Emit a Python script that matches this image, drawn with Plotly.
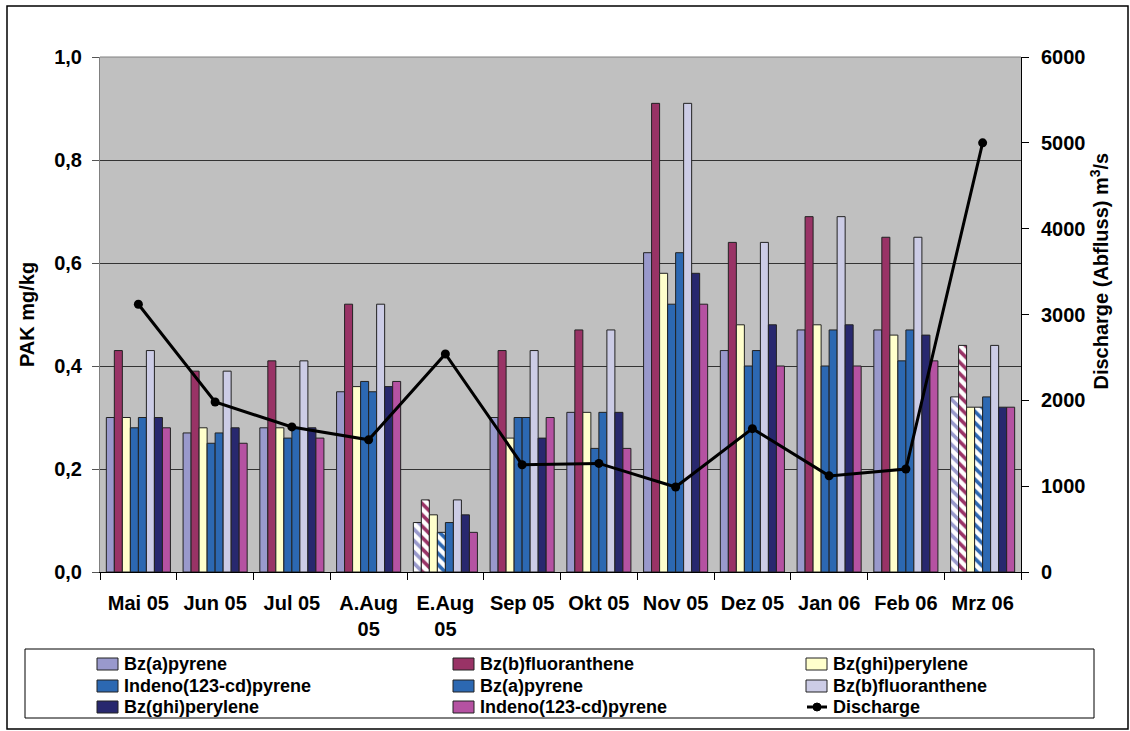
import plotly.graph_objects as go

# Sampling months
months = ["Mai 05", "Jun 05", "Jul 05", "A.Aug<br>05", "E.Aug<br>05", "Sep 05",
          "Okt 05", "Nov 05", "Dez 05", "Jan 06", "Feb 06", "Mrz 06"]

# PAK concentrations (mg/kg), eight series
bza_1 = [0.30, 0.27, 0.28, 0.35, 0.096, 0.30, 0.31, 0.62, 0.43, 0.47, 0.47, 0.34]
bzb_1 = [0.43, 0.39, 0.41, 0.52, 0.14, 0.43, 0.47, 0.91, 0.64, 0.69, 0.65, 0.44]
ghi_1 = [0.30, 0.28, 0.28, 0.36, 0.111, 0.26, 0.31, 0.58, 0.48, 0.48, 0.46, 0.32]
ind_1 = [0.28, 0.25, 0.26, 0.37, 0.077, 0.30, 0.24, 0.52, 0.40, 0.40, 0.41, 0.32]
bza_2 = [0.30, 0.27, 0.28, 0.35, 0.096, 0.30, 0.31, 0.62, 0.43, 0.47, 0.47, 0.34]
bzb_2 = [0.43, 0.39, 0.41, 0.52, 0.14, 0.43, 0.47, 0.91, 0.64, 0.69, 0.65, 0.44]
ghi_2 = [0.30, 0.28, 0.28, 0.36, 0.111, 0.26, 0.31, 0.58, 0.48, 0.48, 0.46, 0.32]
ind_2 = [0.28, 0.25, 0.26, 0.37, 0.077, 0.30, 0.24, 0.52, 0.40, 0.40, 0.41, 0.32]

# Discharge (m3/s)
discharge = [3120, 1980, 1690, 1540, 2540, 1250, 1265, 990, 1670, 1120, 1200, 5000]

# Months whose first-set samples are shown hatched
hatched_months = ["E.Aug<br>05", "Mrz 06"]

series = [
    ("Bz(a)pyrene", bza_1, "#9999CC", True),
    ("Bz(b)fluoranthene", bzb_1, "#993366", True),
    ("Bz(ghi)perylene", ghi_1, "#FFFFCC", False),
    ("Indeno(123-cd)pyrene", ind_1, "#2C68B2", True),
    ("Bz(a)pyrene", bza_2, "#2C68B2", False),
    ("Bz(b)fluoranthene", bzb_2, "#CCCCE6", False),
    ("Bz(ghi)perylene", ghi_2, "#28286E", False),
    ("Indeno(123-cd)pyrene", ind_2, "#B552A2", False),
]

FONT = "Liberation Sans, Arial, sans-serif"
OUTLINE = "#222222"

fig = go.Figure()
for name, vals, color, hatch in series:
    shapes = ["\\" if (hatch and m in hatched_months) else "" for m in months]
    fig.add_trace(go.Bar(
        x=months, y=vals, name=name, showlegend=False,
        marker=dict(
            color=color,
            line=dict(color=OUTLINE, width=1),
            pattern=dict(shape=shapes, fillmode="replace", bgcolor="white",
                         fgcolor=color, size=8, solidity=0.45),
        ),
    ))

fig.add_trace(go.Scatter(
    x=months, y=discharge, name="Discharge", yaxis="y2", showlegend=False,
    mode="lines+markers",
    line=dict(color="black", width=3),
    marker=dict(color="black", size=9),
))

L, R, T, B = 100, 1021, 57, 572
W, H = 1130, 731

def px_x(p):
    return (p - L) / (R - L)

def px_y(p):
    return (B - p) / (B - T)

fig.update_layout(
    width=W, height=H,
    margin=dict(l=L, r=W - R, t=T, b=H - B, autoexpand=False),
    paper_bgcolor="white",
    plot_bgcolor="#C0C0C0",
    barmode="group",
    bargap=0.165,
    bargroupgap=0,
    separators=",.",
    font=dict(family=FONT, color="black", size=18),
    showlegend=False,
    xaxis=dict(
        type="category",
        range=[-0.5, len(months) - 0.5],
        tickson="boundaries",
        tickangle=0,
        ticks="outside", ticklen=7, tickcolor="black",
        showline=True, linecolor="black", linewidth=1,
        showgrid=False,
        tickfont=dict(family=FONT, size=20, weight="bold"),
        ticklabelstandoff=13,
    ),
    yaxis=dict(
        range=[0, 1], dtick=0.2, tickformat=".1f",
        ticks="outside", ticklen=7, tickcolor="#555555",
        showline=True, linecolor="#808080", linewidth=1,
        showgrid=True, gridcolor="#333333", gridwidth=1,
        zeroline=False,
        tickfont=dict(family=FONT, size=20, weight="bold"),
        ticklabelstandoff=6,
        title=dict(text="PAK mg/kg", font=dict(family=FONT, size=20, weight="bold"),
                   standoff=14),
    ),
    yaxis2=dict(
        range=[0, 6000], dtick=1000, overlaying="y", side="right",
        ticks="outside", ticklen=7, tickcolor="black",
        showline=True, linecolor="black", linewidth=1,
        showgrid=False, zeroline=False,
        tickfont=dict(family=FONT, size=20, weight="bold"),
        ticklabelstandoff=8,
    ),
)

# Right axis title
fig.add_annotation(
    text="Discharge (Abfluss) m<sup>3</sup>/s",
    xref="paper", yref="paper", x=px_x(1113), y=px_y(271),
    textangle=-90, showarrow=False,
    font=dict(family=FONT, size=20, weight="bold"),
)

# Top border of the plot area and outer chart frame
fig.add_shape(type="line", xref="paper", yref="paper", x0=0, x1=1, y0=1, y1=1,
              line=dict(color="#808080", width=1))
fig.add_shape(type="rect", xref="paper", yref="paper",
              x0=px_x(7), x1=px_x(1128), y0=px_y(729), y1=px_y(6),
              line=dict(color="black", width=1.5), layer="below")

# Legend: boxed, three columns, filled row by row in series order
fig.add_shape(type="rect", xref="paper", yref="paper",
              x0=px_x(25), x1=px_x(1094), y0=px_y(718), y1=px_y(649),
              line=dict(color="black", width=1), fillcolor="white")
col_x = [97, 453, 806]
row_y = [664, 686, 707]
entries = [(name, color) for name, _, color, _ in series] + [("Discharge", None)]
for i, (name, color) in enumerate(entries):
    cx, cy = col_x[i % 3], row_y[i // 3]
    if color is not None:
        fig.add_shape(type="rect", xref="paper", yref="paper",
                      x0=px_x(cx), x1=px_x(cx + 21), y0=px_y(cy + 6), y1=px_y(cy - 6),
                      line=dict(color=OUTLINE, width=1), fillcolor=color)
    else:
        fig.add_shape(type="line", xref="paper", yref="paper",
                      x0=px_x(cx + 1), x1=px_x(cx + 21), y0=px_y(cy), y1=px_y(cy),
                      line=dict(color="black", width=3))
        fig.add_shape(type="circle", xref="paper", yref="paper",
                      x0=px_x(cx + 7), x1=px_x(cx + 15), y0=px_y(cy + 4), y1=px_y(cy - 4),
                      line=dict(color="black", width=1), fillcolor="black")
    fig.add_annotation(
        text=name, xref="paper", yref="paper",
        x=px_x(cx + 25), y=px_y(cy), xanchor="left", yanchor="middle",
        showarrow=False, font=dict(family=FONT, size=18, weight="bold"),
    )

fig.write_html("out.html")
